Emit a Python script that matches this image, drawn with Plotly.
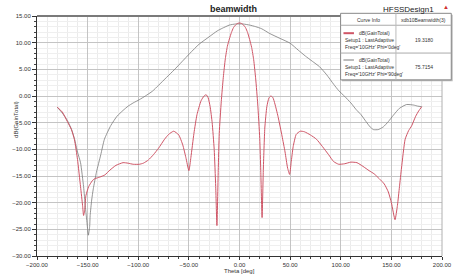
import plotly.graph_objects as go

# ---------------- data ----------------
theta_phi0 = [-180, -175, -170, -166, -163, -160, -157, -155, -154, -153, -151.7, -149, -147.5, -145,
              -142.8, -138, -133, -128, -122, -115, -110, -105, -99, -95, -90, -85, -80, -74, -70, -65,
              -60, -56, -53, -50, -48, -45, -42, -38, -35, -33, -31, -29, -27, -25, -23.5, -22.3, -21,
              -20, -18, -16, -14, -12, -10, -8, -6, -4, -2, 0, 2, 4, 6, 8, 10, 12, 14, 16, 18, 20, 21,
              22.3, 23.5, 25, 27, 29, 31, 33, 35, 38, 42, 45, 47.5, 49.5, 51, 53, 56, 60, 64, 70, 76,
              82, 88, 93, 98, 104, 110, 116, 122, 128, 133, 138, 143, 147, 150, 153.6, 156, 158, 160,
              163.6, 167, 170, 174, 177, 180]
gain_phi0 = [-2.1, -3.0, -4.8, -6.3, -8.2, -11.9, -17.0, -20.5, -22.4, -21.5, -18.7, -17.0, -16.5, -15.8,
             -15.5, -15.2, -14.8, -13.9, -13.0, -12.5, -12.6, -12.8, -12.8, -12.6, -12.0, -11.0, -9.8,
             -8.1, -7.2, -6.6, -7.3, -9.2, -11.5, -14.0, -11.5, -7.0, -3.5, -0.9, 0.0, 0.25, -0.3, -2.0,
             -5.0, -10.0, -17.0, -24.3, -14.0, -7.0, -1.0, 3.5, 7.0, 9.3, 10.7, 11.9, 12.8, 13.3, 13.6,
             13.7, 13.6, 13.3, 12.8, 11.9, 10.6, 9.1, 6.8, 3.2, -1.5, -8.0, -14.0, -22.8, -14.0, -6.0,
             -2.0, -0.4, 0.0, -0.3, -1.5, -3.8, -7.5, -10.5, -13.5, -14.7, -12.5, -9.5, -7.2, -6.6,
             -6.7, -7.3, -8.1, -9.5, -11.0, -12.3, -12.8, -12.7, -12.4, -12.5, -13.2, -14.0, -14.6,
             -15.5, -16.5, -18.0, -20.0, -23.2, -20.5, -17.0, -13.5, -8.1, -6.5, -5.6, -3.8, -2.8, -2.0]

theta_phi90 = [-180, -175, -170, -166, -163, -160, -157, -154, -152.3, -150.5, -149.3, -148, -147.5, -146,
               -144.4, -141.3, -137, -133.4, -127, -121, -115, -110, -105, -99, -93, -86, -80, -72,
               -64.5, -57, -49, -40, -30, -22, -17, -10, -4, 3.5, 10, 16, 22, 30, 40, 50, 58, 65, 72,
               79, 86, 93, 98, 104, 110, 115, 120, 125, 129, 132.3, 137, 142, 147, 152, 158, 165, 172,
               176, 180]
gain_phi90 = [-2.1, -3.2, -4.6, -6.2, -8.0, -10.5, -12.5, -17.0, -20.6, -24.0, -26.1, -24.5, -22.4, -19.5,
              -17.4, -14.3, -11.0, -8.1, -5.5, -3.8, -2.7, -1.9, -1.3, -0.7, 0.0, 0.9, 2.0, 3.5, 4.9,
              6.4, 8.0, 9.7, 11.1, 12.2, 12.7, 13.3, 13.5, 13.5, 13.3, 13.0, 12.6, 11.7, 10.8, 9.9, 8.6,
              7.5, 6.5, 5.5, 4.0, 2.2, 1.0, -0.1, -1.3, -2.5, -3.5, -4.8, -5.8, -6.3, -6.3, -5.8, -4.8,
              -3.6, -2.3, -1.6, -1.7, -1.9, -2.0]

series_names = ["dB(GainTotal) Phi='0deg'", "dB(GainTotal) Phi='90deg'"]
beamwidth_values = ["19.3180", "75.7154"]
x_ticks = [-200, -150, -100, -50, 0, 50, 100, 150, 200]
y_ticks = [15, 10, 5, 0, -5, -10, -15, -20, -25, -30]

# ---------------- layout helpers ----------------
W, H = 464, 280
L, R, T, B = 25.7, 450.3, 15.7, 257.3


def px(x):
    return (x - L) / (R - L)


def py(y):
    return (B - y) / (B - T)


RED = "#cf5566"
GREY = "#7a7a7a"
FONT = "Liberation Sans Narrow, Arial Narrow, Liberation Sans, Arial"

fig = go.Figure()
fig.add_trace(go.Scatter(x=theta_phi90, y=gain_phi90, mode="lines", name=series_names[1],
                         line=dict(color=GREY, width=0.8, shape="spline", smoothing=0.5)))
fig.add_trace(go.Scatter(x=theta_phi0, y=gain_phi0, mode="lines", name=series_names[0],
                         line=dict(color=RED, width=1.0, shape="spline", smoothing=0.5)))

fig.update_layout(
    width=W, height=H,
    margin=dict(l=L, r=W - R, t=T, b=H - B, pad=0),
    paper_bgcolor="white", plot_bgcolor="white",
    showlegend=False,
    font=dict(family=FONT, size=6, color="#333333"),
)
fig.update_xaxes(
    range=[-200, 200], tickvals=x_ticks, tickformat=".2f",
    showgrid=True, gridcolor="#c4c4c4", gridwidth=1,
    minor=dict(dtick=10, showgrid=True, gridcolor="#ebebeb", ticks="outside", ticklen=2, tickcolor="#444"),
    showline=True, linecolor="#333", linewidth=1,
    ticks="outside", ticklen=3, tickcolor="#333",
    tickfont=dict(size=6, color="#333"), zeroline=False,
    mirror=False,
)
fig.update_yaxes(
    range=[-30, 15], tickvals=y_ticks, tickformat=".2f",
    showgrid=True, gridcolor="#c4c4c4", gridwidth=1,
    minor=dict(dtick=1, showgrid=True, gridcolor="#efefef", ticks="outside", ticklen=2, tickcolor="#444"),
    showline=True, linecolor="#333", linewidth=1,
    ticks="outside", ticklen=4, tickcolor="#333",
    tickfont=dict(size=6, color="#333"), zeroline=False,
)

shapes = []
# top border (darker) and right border
shapes.append(dict(type="line", xref="paper", yref="paper", x0=0, x1=1, y0=1, y1=1,
                   line=dict(color="#7a7a7a", width=2)))
shapes.append(dict(type="line", xref="paper", yref="paper", x0=1, x1=1, y0=0, y1=1,
                   line=dict(color="#b0b0b0", width=1)))

# legend table
lx0, lx1, ly0, ly1 = 344, 460, 13, 80
shapes.append(dict(type="rect", xref="paper", yref="paper", x0=px(lx0 + 1.5), x1=px(lx1 + 1.5),
                   y0=py(ly1 + 1.5), y1=py(ly0 + 1.5), fillcolor="#b8b8b8", line=dict(width=0), layer="above"))
shapes.append(dict(type="rect", xref="paper", yref="paper", x0=px(lx0), x1=px(lx1), y0=py(ly1), y1=py(ly0),
                   fillcolor="white", line=dict(color="#888", width=1), layer="above"))
for yy in (25, 53):
    shapes.append(dict(type="line", xref="paper", yref="paper", x0=px(lx0), x1=px(lx1), y0=py(yy), y1=py(yy),
                       line=dict(color="#aaa", width=1), layer="above"))
shapes.append(dict(type="line", xref="paper", yref="paper", x0=px(402), x1=px(402), y0=py(ly1), y1=py(ly0),
                   line=dict(color="#bbb", width=1), layer="above"))
shapes.append(dict(type="line", xref="paper", yref="paper", x0=px(347), x1=px(358), y0=py(33), y1=py(33),
                   line=dict(color=RED, width=2), layer="above"))
shapes.append(dict(type="line", xref="paper", yref="paper", x0=px(347), x1=px(358), y0=py(60), y1=py(60),
                   line=dict(color=GREY, width=1), layer="above"))
fig.update_layout(shapes=shapes)


def ann(text, x, y, size=6, xanchor="left", color="#333", angle=0, bold=False):
    fig.add_annotation(text=("<b>%s</b>" % text) if bold else text, x=px(x), y=py(y),
                       xref="paper", yref="paper", showarrow=False, xanchor=xanchor, yanchor="middle",
                       textangle=angle, font=dict(size=size, color=color, family=FONT))


ann("beamwidth", 232, 9, size=9, xanchor="center", color="#222", bold=True)
ann("HFSSDesign1", 415, 9, size=8, xanchor="center", color="#222")
ann("▲", 455, 7, size=6, xanchor="center", color="#d03030")
ann("Theta [deg]", 238, 272, size=6, xanchor="center")
ann("dB(GainTotal)", 3, 120, size=6, xanchor="center", angle=-90)

ann("Curve Info", 373, 19.5, size=5, xanchor="center")
ann("xdb10Beamwidth(3)", 431, 19.5, size=5, xanchor="center")
ann("dB(GainTotal)", 361, 32.5, size=5)
ann("Setup1 : LastAdaptive", 346, 40, size=5)
ann("Freq='10GHz' Phi='0deg'", 346, 47, size=5)
ann(beamwidth_values[0], 431, 40, size=5, xanchor="center")
ann("dB(GainTotal)", 361, 59.5, size=5)
ann("Setup1 : LastAdaptive", 346, 67, size=5)
ann("Freq='10GHz' Phi='90deg'", 346, 74, size=5)
ann(beamwidth_values[1], 431, 67, size=5, xanchor="center")

fig.write_html("out.html")
